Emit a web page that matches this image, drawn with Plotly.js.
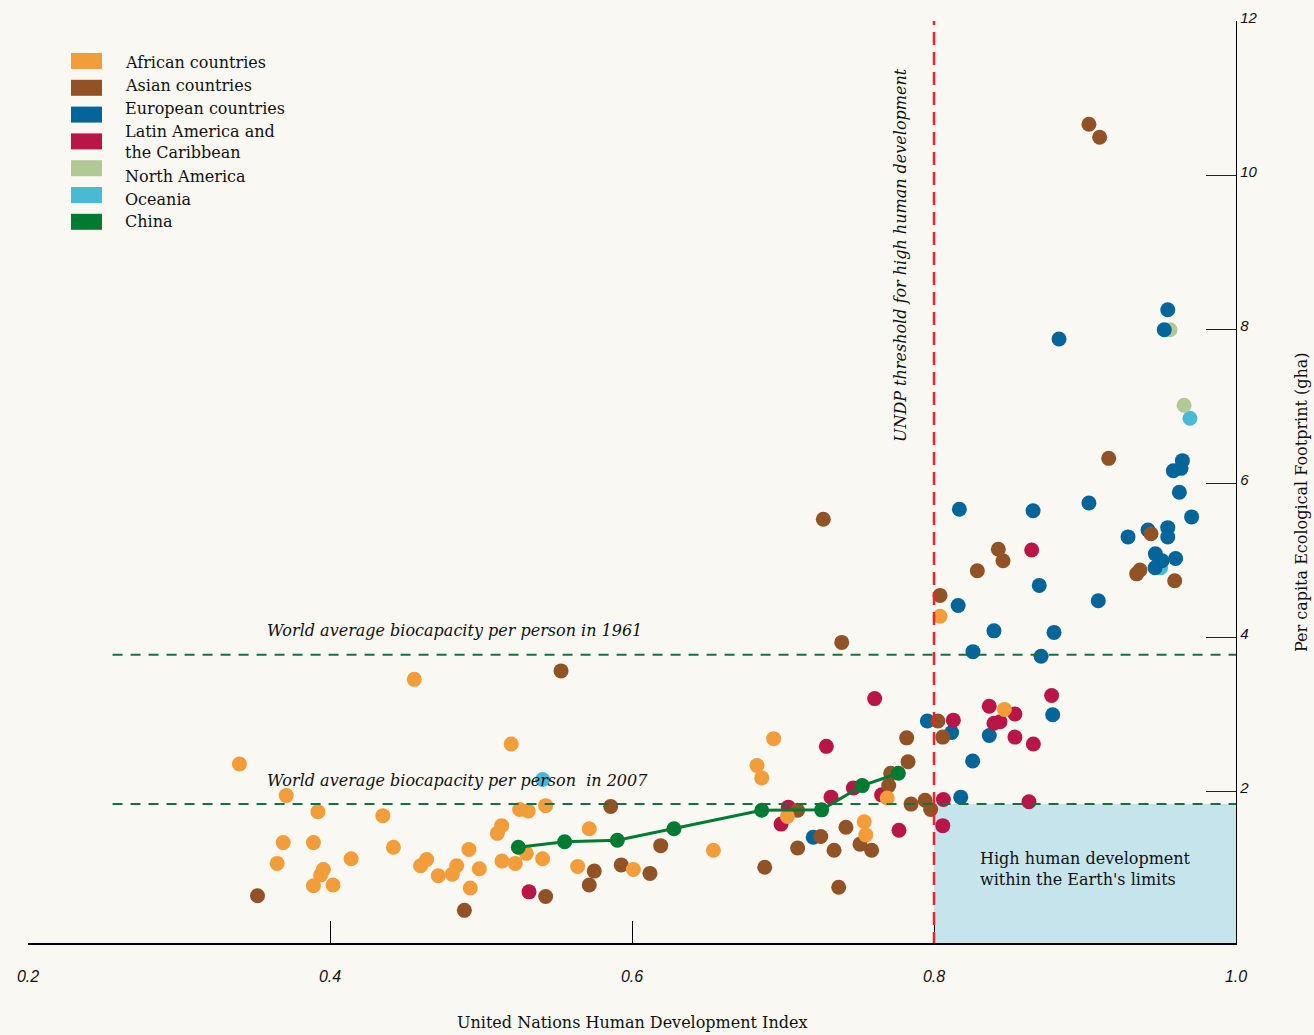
<!DOCTYPE html>
<html>
<head>
<meta charset="utf-8">
<script src="https://cdn.plot.ly/plotly-3.0.1.min.js"></script>
<style>
  html, body { margin: 0; padding: 0; background: #FAF8F3; }
  #chart { width: 1314px; height: 1035px; }
</style>
</head>
<body>
<div id="chart"></div>
<script>
// ---------------- data ----------------
const groupNames = ["African countries", "Asian countries", "European countries",
  "Latin America and<br>the Caribbean", "North America", "Oceania", "China"];
const groupColors = ["#F39C3A", "#915225", "#03659A", "#BA1547", "#B1C995", "#48BAD4", "#017B32"];

const africaX = [0.4558,0.520,0.340,0.371,0.392,0.435,0.5256,0.5313,0.5137,0.5108,0.369,0.389,0.442,0.365,0.414,0.492,0.464,0.460,0.3956,0.3938,0.4717,0.4839,0.481,0.4989,0.5139,0.5227,0.530,0.389,0.402,0.4929,0.5428,0.5717,0.5408,0.564,0.6009,0.6539,0.6938,0.6828,0.6859,0.7029,0.769,0.7538,0.7548,0.804,0.8466];
const africaY = [3.45,2.61,2.35,1.94,1.73,1.68,1.76,1.74,1.55,1.45,1.33,1.33,1.27,1.06,1.12,1.24,1.11,1.03,0.98,0.91,0.90,1.03,0.92,0.99,1.09,1.06,1.19,0.77,0.78,0.74,1.81,1.51,1.12,1.02,0.98,1.23,2.68,2.33,2.17,1.67,1.91,1.60,1.43,4.27,3.06];

const asiaX = [0.352,0.489,0.553,0.5859,0.575,0.5717,0.5428,0.5929,0.6119,0.619,0.6879,0.7267,0.804,0.7389,0.8026,0.8058,0.7819,0.7828,0.7713,0.770,0.7097,0.7848,0.7941,0.7978,0.751,0.7587,0.7417,0.725,0.7097,0.7338,0.7369,0.9026,0.9097,0.9157,0.9437,0.8426,0.8457,0.8287,0.9364,0.9342,0.9594];
const asiaY = [0.64,0.45,3.56,1.80,0.96,0.78,0.63,1.04,0.93,1.29,1.01,5.53,4.54,3.93,2.91,2.70,2.69,2.38,2.23,2.07,1.75,1.83,1.88,1.76,1.31,1.23,1.53,1.41,1.26,1.23,0.75,10.66,10.49,6.32,5.34,5.14,4.99,4.86,4.87,4.82,4.73];

const europeX = [0.9548,0.9525,0.8828,0.9645,0.9636,0.9585,0.9625,0.9026,0.8168,0.8656,0.9706,0.9548,0.9417,0.9285,0.9548,0.9466,0.951,0.96,0.9464,0.8697,0.9088,0.816,0.8397,0.8795,0.8258,0.8709,0.7956,0.8117,0.8786,0.8366,0.8256,0.8177,0.72];
const europeY = [8.25,7.99,7.87,6.29,6.19,6.16,5.88,5.74,5.66,5.64,5.56,5.42,5.39,5.30,5.30,5.08,4.99,5.02,4.90,4.67,4.47,4.41,4.08,4.06,3.81,3.75,2.91,2.76,2.99,2.72,2.39,1.92,1.40];

const latinX = [0.5318,0.7607,0.7287,0.8128,0.7466,0.7653,0.7318,0.7035,0.6987,0.8062,0.8058,0.7768,0.8647,0.8779,0.8366,0.8536,0.8397,0.8437,0.8536,0.8658,0.8629];
const latinY = [0.69,3.20,2.58,2.92,2.04,1.95,1.92,1.79,1.57,1.89,1.55,1.49,5.13,3.24,3.10,3.00,2.88,2.90,2.70,2.61,1.86];

const northAmX = [0.9563,0.9656];
const northAmY = [7.99,7.01];

const oceaniaX = [0.5408,0.9695,0.9501];
const oceaniaY = [2.15,6.84,4.90];

const chinaX = [0.5247,0.5554,0.5903,0.6278,0.6859,0.7256,0.7525,0.7764];
const chinaY = [1.27,1.34,1.36,1.51,1.75,1.755,2.07,2.23];

const xTickVals = [0.2,0.4,0.6,0.8,1.0];
const xTickText = ["0.2","0.4","0.6","0.8","1.0"];
const yTickVals = [2,4,6,8,10,12];
const yTickText = ["2","4","6","8","10","12"];

const biocap1961 = 3.77;
const biocap2007 = 1.83;
const hdiThreshold = 0.8;

// ---------------- layout helpers ----------------
const W = 1314, H = 1035;
const M = {l: 28, r: 78, t: 21, b: 92};
const PW = W - M.l - M.r, PH = H - M.t - M.b;
const pxX = px => (px - M.l) / PW;
const pxY = py => (H - M.b - py) / PH;

const serif = "DejaVu Serif, Georgia, serif";
const BG = "#FAF8F3";

function pts(x, y, color) {
  return {type: "scatter", mode: "markers", x: x, y: y, hoverinfo: "x+y",
    marker: {color: color, size: 15, line: {width: 0}}, showlegend: false, cliponaxis: false};
}

const traces = [
  pts(oceaniaX, oceaniaY, groupColors[5]),
  pts(northAmX, northAmY, groupColors[4]),
  pts(europeX, europeY, groupColors[2]),
  pts(latinX, latinY, groupColors[3]),
  pts(asiaX, asiaY, groupColors[1]),
  pts(africaX, africaY, groupColors[0]),
  {type: "scatter", mode: "lines+markers", x: chinaX, y: chinaY, showlegend: false,
   line: {color: groupColors[6], width: 3}, marker: {color: groupColors[6], size: 15}}
];

const shapes = [
  {type: "rect", xref: "x", yref: "y", x0: hdiThreshold, x1: 1.0, y0: 0, y1: biocap2007,
   fillcolor: "#C5E4EC", line: {width: 0}, layer: "below"},
  {type: "line", xref: "x", yref: "y", x0: 0.256, x1: 1.0, y0: biocap1961, y1: biocap1961,
   line: {color: "#17703F", width: 2, dash: "10px,8px"}, layer: "above"},
  {type: "line", xref: "x", yref: "y", x0: 0.256, x1: 1.0, y0: biocap2007, y1: biocap2007,
   line: {color: "#17703F", width: 2, dash: "10px,8px"}, layer: "above"},
  {type: "line", xref: "x", yref: "y", x0: hdiThreshold, x1: hdiThreshold, y0: 0, y1: 12.03,
   line: {color: "#E8262A", width: 2.5, dash: "13px,7px"}, layer: "above"}
];

const annotations = [
  {xref: "x", yref: "y", x: 0.357, y: 4.08, xanchor: "left", yanchor: "middle", showarrow: false,
   text: "<i>World average biocapacity per person in 1961</i>", font: {family: serif, size: 16, color: "#111"}},
  {xref: "x", yref: "y", x: 0.357, y: 2.13, xanchor: "left", yanchor: "middle", showarrow: false,
   text: "<i>World average biocapacity per person  in 2007</i>", font: {family: serif, size: 16, color: "#111"}},
  {xref: "x", yref: "y", x: 0.7775, y: 8.96, xanchor: "center", yanchor: "middle", showarrow: false, textangle: -90,
   text: "<i>UNDP threshold for high human development</i>", font: {family: serif, size: 16, color: "#111"}},
  {xref: "x", yref: "y", x: 0.829, y: 0.99, xanchor: "left", yanchor: "middle", showarrow: false, align: "left",
   text: "High human development<br>within the Earth's limits", font: {family: serif, size: 16, color: "#111"}},
  {xref: "paper", yref: "paper", x: 0.5, y: pxY(1022), xanchor: "center", yanchor: "middle", showarrow: false,
   text: "United Nations Human Development Index", font: {family: serif, size: 16, color: "#111"}},
  {xref: "paper", yref: "paper", x: pxX(1301), y: pxY(502), xanchor: "center", yanchor: "middle", showarrow: false, textangle: -90,
   text: "Per capita Ecological Footprint (gha)", font: {family: serif, size: 16, color: "#111"}}
];

// legend built from group names / colours
groupNames.forEach((name, i) => {
  const top = 53 + i * 26.8;
  shapes.push({type: "rect", xref: "paper", yref: "paper",
    x0: pxX(71), x1: pxX(102), y0: pxY(top + 16), y1: pxY(top),
    fillcolor: groupColors[i], line: {width: 0}});
  const line = i <= 3 ? i : i + 1;
  const isTwo = name.indexOf("<br>") >= 0;
  const cy = 63 + line * 22.7 + (isTwo ? 11.35 : 0);
  annotations.push({xref: "paper", yref: "paper", x: pxX(123), y: pxY(cy), xanchor: "left", yanchor: "middle",
    showarrow: false, align: "left", text: name, font: {family: serif, size: 16, color: "#111"}});
});

const layout = {
  width: W, height: H,
  margin: M,
  paper_bgcolor: BG, plot_bgcolor: BG,
  showlegend: false,
  xaxis: {range: [0.2, 1.0], showgrid: false, zeroline: false, showline: true, linecolor: "#000", linewidth: 2,
    ticks: "inside", ticklen: 22, tickcolor: "#000", tickwidth: 1,
    tickvals: xTickVals, ticktext: xTickText, ticklabelstandoff: 18,
    tickfont: {family: "Liberation Sans, Arial, sans-serif", size: 16, color: "#111", style: "italic"}},
  yaxis: {range: [0.026, 12], side: "right", showgrid: false, zeroline: false, showline: true, linecolor: "#000", linewidth: 1.2,
    ticks: "inside", ticklen: 30, tickcolor: "#222", tickwidth: 1,
    tickvals: yTickVals, ticktext: yTickText, ticklabelshift: -3,
    tickfont: {family: "Liberation Sans, Arial, sans-serif", size: 15, color: "#111", style: "italic"}},
  shapes: shapes,
  annotations: annotations
};

Plotly.newPlot("chart", traces, layout, {displayModeBar: false, staticPlot: true});
</script>
</body>
</html>
